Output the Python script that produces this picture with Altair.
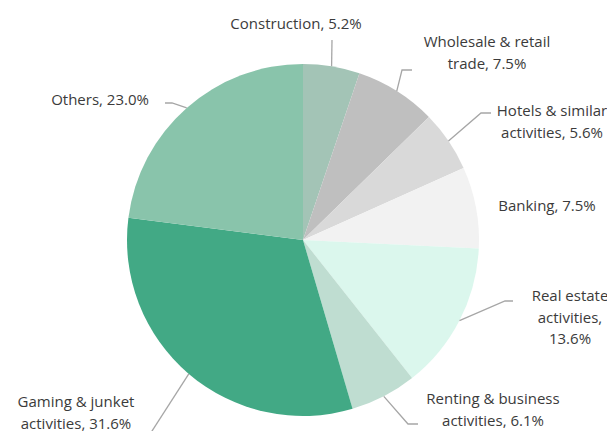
import math
import altair as alt
import pandas as pd

# ---------------- data ----------------
categories = [
    "Construction",
    "Wholesale & retail trade",
    "Hotels & similar activities",
    "Banking",
    "Real estate activities",
    "Renting & business activities",
    "Gaming & junket activities",
    "Others",
]
shares = [5.2, 7.5, 5.6, 7.5, 13.6, 6.1, 31.6, 23.0]
labels = [
    "Construction, 5.2%",
    "Wholesale & retail\ntrade, 7.5%",
    "Hotels & similar\nactivities,  5.6%",
    "Banking, 7.5%",
    "Real estate\nactivities,\n13.6%",
    "Renting & business\nactivities,  6.1%",
    "Gaming & junket\nactivities,  31.6%",
    "Others, 23.0%",
]

# ---------------- styles / layout ----------------
colors = ["#a3c4b6", "#bfbfbf", "#d9d9d9", "#f2f2f2",
          "#dbf7ed", "#bfddd1", "#42a985", "#89c4ab"]
W, H = 599, 423
CX, CY, R = 295, 232, 176
FONT = "Open Sans"
# label anchor points (first text line, chart pixel space)
label_xy = [(288, 16), (479, 34), (544, 103), (539, 198),
            (562, 288), (485, 391), (68, 394), (92, 92)]
# leader-line elbow/end points (chart pixel space)
leader_pts = [
    [(324, 32)],
    [(394, 62), (404, 62)],
    [(473, 105), (483, 105)],
    [],
    [(497, 293), (505, 293)],
    [(400, 416), (410, 416)],
    [(135, 437)],
    [(164, 95), (157, 95)],
]

total = sum(shares)
df = pd.DataFrame({"category": categories, "share": shares,
                   "idx": list(range(len(categories)))})

# leader lines start on the pie edge at each slice's mid-angle
rows = []
cum = 0.0
for i, s in enumerate(shares):
    mid = (cum + s / 2) / total * 2 * math.pi
    cum += s
    if not leader_pts[i]:
        continue
    sx = CX + R * math.sin(mid)
    sy = CY - R * math.cos(mid)
    pts = [(sx, sy)] + leader_pts[i]
    for k, (px, py) in enumerate(pts):
        rows.append({"cat": categories[i], "k": k, "x": px, "y": py})
lines_df = pd.DataFrame(rows)

text_df = pd.DataFrame({
    "label": labels,
    "x": [p[0] for p in label_xy],
    "y": [p[1] for p in label_xy],
})

pie = alt.Chart(df).mark_arc(radius=R, stroke=None).encode(
    theta=alt.Theta("share:Q", stack=True),
    color=alt.Color("category:N", scale=alt.Scale(domain=categories, range=colors), legend=None),
    order=alt.Order("idx:Q"),
    x=alt.value(CX),
    y=alt.value(CY),
)

leaders = alt.Chart(lines_df).mark_line(color="#a6a6a6", strokeWidth=1.3).encode(
    x=alt.X("x:Q", scale=None, axis=None),
    y=alt.Y("y:Q", scale=None, axis=None),
    detail="cat:N",
    order="k:Q",
)

texts = alt.Chart(text_df).mark_text(
    font=FONT, fontSize=15, color="#3b3b3b", lineBreak="\n",
    lineHeight=21.5, align="center", baseline="middle",
).encode(
    x=alt.X("x:Q", scale=None, axis=None),
    y=alt.Y("y:Q", scale=None, axis=None),
    text="label:N",
)

chart = alt.layer(pie, leaders, texts).properties(
    width=W, height=H, padding=0,
    autosize=alt.AutoSizeParams(type="none"),
).configure_view(stroke=None)

chart.save("out.html", embed_options={"renderer": "svg", "actions": False})
